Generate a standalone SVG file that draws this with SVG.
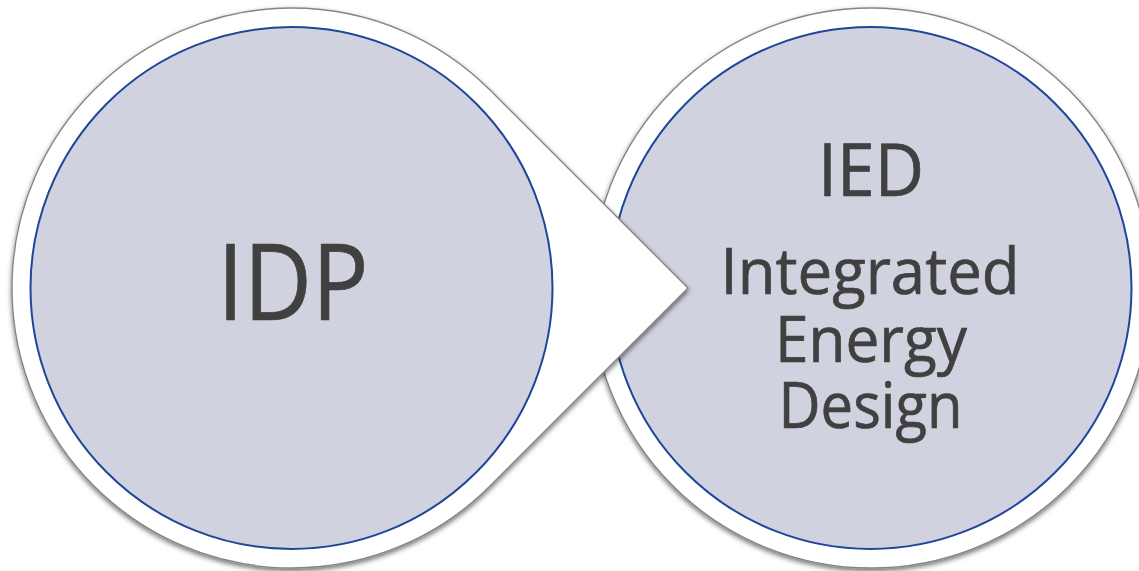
<svg xmlns="http://www.w3.org/2000/svg" width="1139" height="571" viewBox="0 0 1139 571">
  <defs>
    <filter id="shadow" x="-10%" y="-10%" width="120%" height="120%">
      <feDropShadow dx="0" dy="2.5" stdDeviation="2.5" flood-color="#000" flood-opacity="0.55"/>
    </filter>
  </defs>
  <style>
    .outer { fill: #fff; stroke: #858585; stroke-width: 1.4; filter: url(#shadow); }
    .inner { fill: #d0d2df; stroke: #1f4699; stroke-width: 2; }
    text { font-family: "Open Sans", "DejaVu Sans", sans-serif; fill: #404040; stroke: #404040; stroke-width: 0.7; text-anchor: middle; }
  </style>
  <rect width="1139" height="571" fill="#fff"/>
  <g id="node-ied">
    <circle class="outer" cx="871" cy="288" r="280"/>
    <circle class="inner" cx="870.5" cy="288" r="261"/>
    <text x="871" y="196" font-size="74" textLength="106" lengthAdjust="spacingAndGlyphs">IED</text>
    <text x="870" y="294.3" font-size="63.5" textLength="299" lengthAdjust="spacingAndGlyphs">Integrated</text>
    <text x="871" y="361.7" font-size="63.5" textLength="192" lengthAdjust="spacingAndGlyphs">Energy</text>
    <text x="870.5" y="428.3" font-size="63.5" textLength="184" lengthAdjust="spacingAndGlyphs">Design</text>
  </g>
  <g id="node-idp">
    <path class="outer" d="M490 90 L688 288 L490 486 A280 280 0 1 1 490 90 Z"/>
    <circle class="inner" cx="291.5" cy="288" r="261"/>
    <text x="293" y="320" font-size="106" textLength="151" lengthAdjust="spacingAndGlyphs">IDP</text>
  </g>
  <g id="connectors"/>
</svg>
